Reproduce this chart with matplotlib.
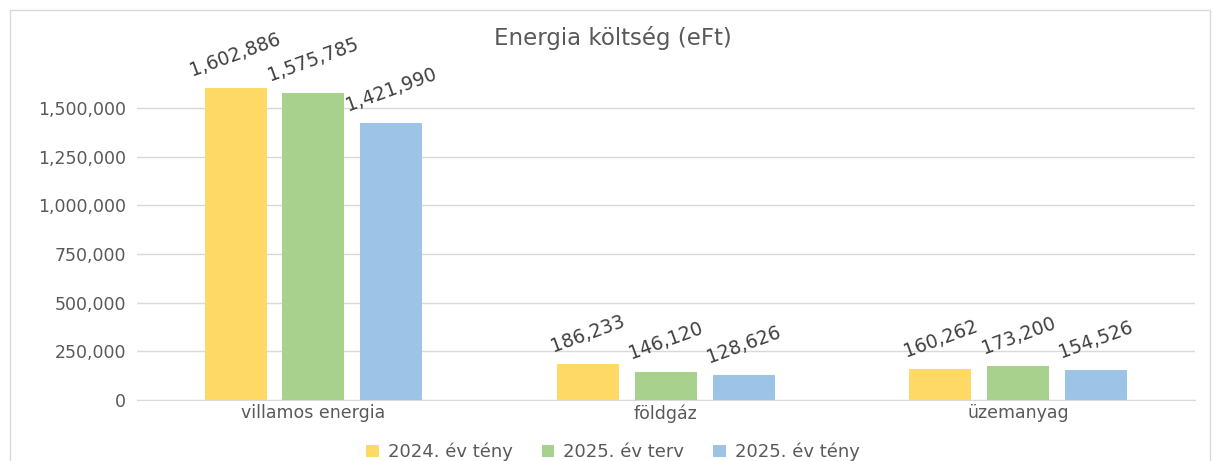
"""Energia költség (eFt) - grouped bar chart."""
import matplotlib.pyplot as plt
import numpy as np
from matplotlib.patches import Rectangle

# data
categories = ["villamos energia", "földgáz", "üzemanyag"]
series_names = ["2024. év tény", "2025. év terv", "2025. év tény"]
tény_2024 = [1602886, 186233, 160262]
terv_2025 = [1575785, 146120, 173200]
tény_2025 = [1421990, 128626, 154526]
y_ticks = [0, 250000, 500000, 750000, 1000000, 1250000, 1500000]

colors = ["#FFD966", "#A9D18E", "#9DC3E6"]
text_color = "#595959"
plt.rcParams["font.family"] = ["DejaVu Sans"]

fig = plt.figure(figsize=(12.14, 4.61), dpi=100)
ax = fig.add_axes([0.113, 0.132, 0.871, 0.739])

# chart border
fig.patches.append(Rectangle((10 / 1214, -0.1), 1200 / 1214, 1.1 - 10 / 461,
                             transform=fig.transFigure, fill=False,
                             edgecolor="#D9D9D9", linewidth=1))

x = np.arange(len(categories))
width = 0.176
step = 0.221
for i, (name, vals) in enumerate(zip(series_names, [tény_2024, terv_2025, tény_2025])):
    pos = x + (i - 1) * step
    ax.bar(pos, vals, width, color=colors[i], label=name, zorder=3)
    for px, v in zip(pos, vals):
        ax.annotate(f"{v:,}", (px, v), xytext=(0, 6), textcoords="offset points",
                    ha="center", va="bottom", rotation=20, fontsize=13.5,
                    color="#404040")

ax.set_xlim(-0.5, 2.5)
ax.set_ylim(0, 1750000)
ax.set_yticks(y_ticks)
ax.set_yticklabels([f"{t:,}" for t in y_ticks])
ax.set_xticks(x)
ax.set_xticklabels(categories)
ax.tick_params(axis="both", length=0, labelsize=12.5, labelcolor=text_color, pad=3)
ax.tick_params(axis="y", pad=8)
ax.grid(axis="y", color="#D9D9D9", linewidth=1, zorder=0)
for side in ["top", "right", "left"]:
    ax.spines[side].set_visible(False)
ax.spines["bottom"].set_color("#D9D9D9")

fig.text(0.505, 1 - 38 / 461, "Energia költség (eFt)", ha="center", va="center",
         fontsize=16.5, color=text_color)

handles, labels = ax.get_legend_handles_labels()
fig.legend(handles, labels, loc="center", bbox_to_anchor=(0.505, 1 - 452 / 461),
           ncol=3, frameon=False, fontsize=13, labelcolor=text_color,
           handlelength=0.7, handleheight=0.7, handletextpad=0.5,
           columnspacing=1.6, borderpad=0)

fig.savefig("out.png", dpi=100)
